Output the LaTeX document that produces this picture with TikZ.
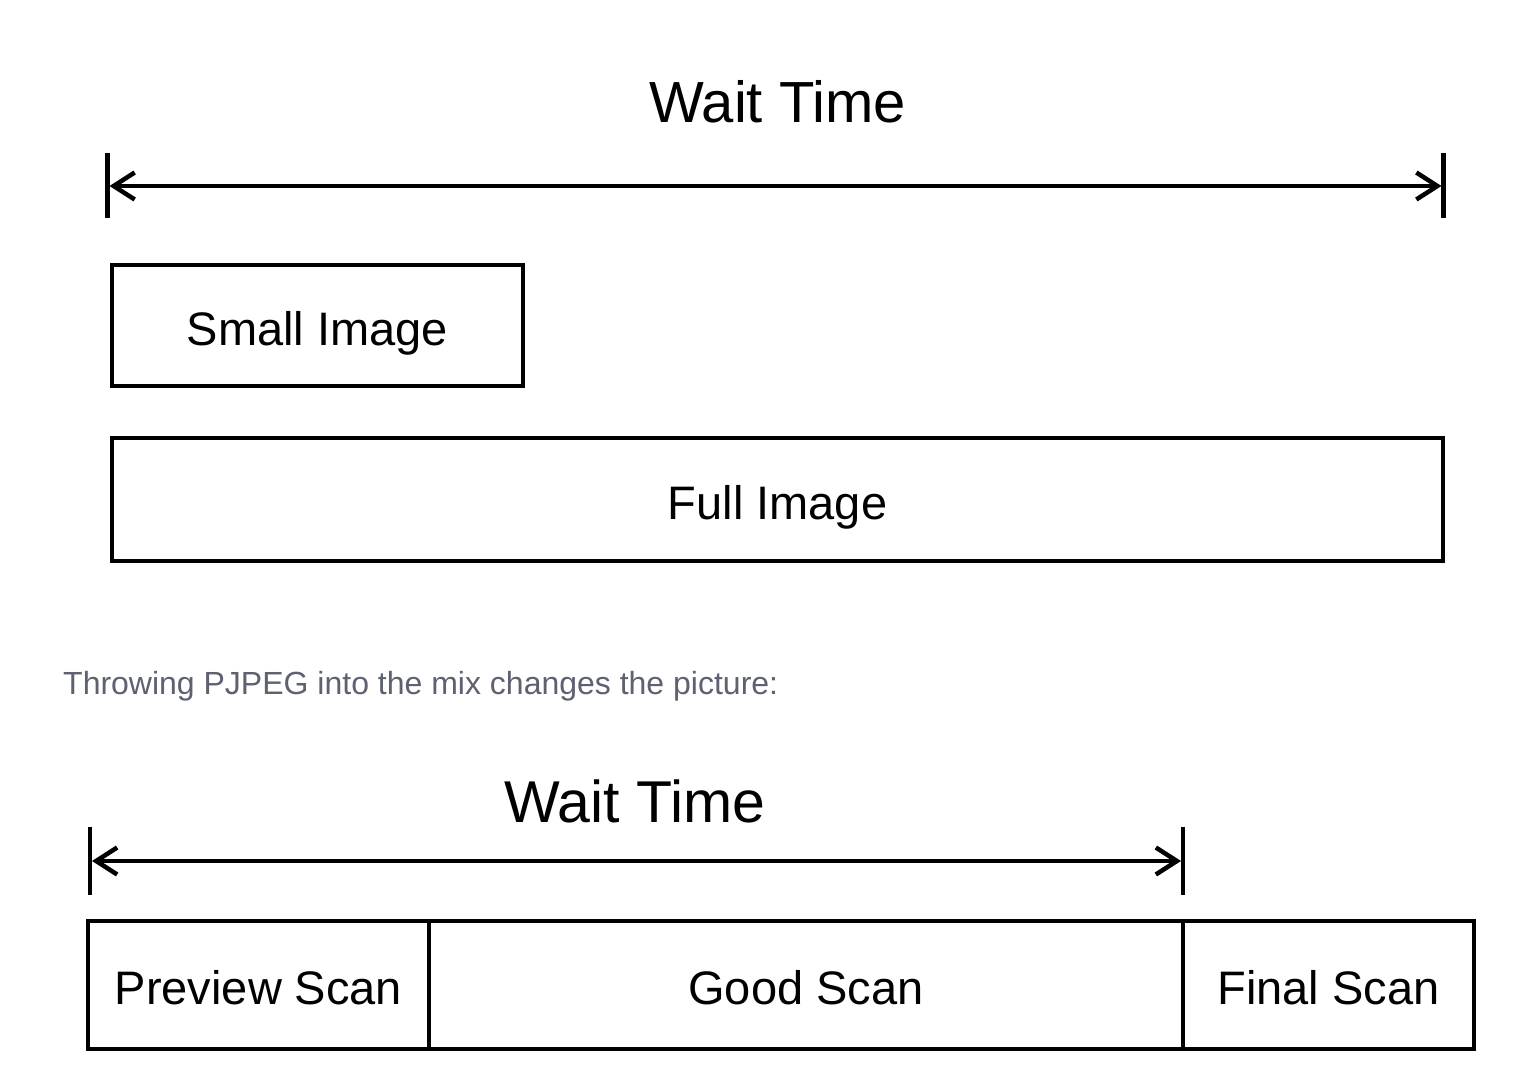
\documentclass[tikz,border=0pt]{standalone}
\usepackage{fontspec}
\setmainfont{Liberation Sans}
\usetikzlibrary{arrows.meta}
\definecolor{captiongray}{HTML}{5D6170}
\begin{document}
\begin{tikzpicture}[x=1pt,y=-1pt,
  stroke/.style={line width=4.5pt, line cap=butt},
  barb/.tip={Straight Barb[length=21pt,width=27pt,line width=4.5pt]},
  span/.style={stroke, barb-barb},
  box/.style={draw, line width=4.5pt, inner sep=0pt, outer sep=0pt,
    text height=39pt, text depth=0pt, font=\fontsize{47}{56}\selectfont},
  heading/.style={font=\fontsize{58}{70}\selectfont, anchor=base, inner sep=0pt},
  caption/.style={font=\fontsize{32}{38}\selectfont, text=captiongray,
    anchor=base west, inner sep=0pt},
]
\useasboundingbox[fill=white] (0,0) rectangle (1538,1086);

% ---- sequential load ----
\node[heading] (wait1) at (777.5,123) {Wait Time};
\coordinate (t1a) at (107.5,153);  \coordinate (t1b) at (107.5,218);
\coordinate (t1c) at (1443.5,153); \coordinate (t1d) at (1443.5,218);
\coordinate (s1a) at (109.5,186);  \coordinate (s1b) at (1441.5,186);
\draw[stroke] (t1a) -- (t1b);
\draw[stroke] (t1c) -- (t1d);
\draw[span] (s1a) -- (s1b);

\node[box, minimum width=411pt, minimum height=121pt] (small) at (317.5,325.5) {Small Image};
\node[box, minimum width=1331pt, minimum height=123pt] (full) at (777.5,499.5) {Full Image};

% ---- caption ----
\node[caption] (note) at (63,694) {Throwing PJPEG into the mix changes the picture:};

% ---- progressive load ----
\node[heading, font=\fontsize{59}{70}\selectfont] (wait2) at (635,822) {Wait Time};
\coordinate (t2a) at (90,827);   \coordinate (t2b) at (90,895);
\coordinate (t2c) at (1183,827); \coordinate (t2d) at (1183,895);
\coordinate (s2a) at (92,861);   \coordinate (s2b) at (1181,861);
\draw[stroke] (t2a) -- (t2b);
\draw[stroke] (t2c) -- (t2d);
\draw[span] (s2a) -- (s2b);

\node[box, minimum width=341pt, minimum height=128pt] (preview) at (258.5,985) {Preview Scan};
\node[box, minimum width=754pt, minimum height=128pt] (good) at (806,985) {Good Scan};
\node[box, minimum width=291pt, minimum height=128pt] (final) at (1328.5,985) {Final Scan};
\end{tikzpicture}
\end{document}
